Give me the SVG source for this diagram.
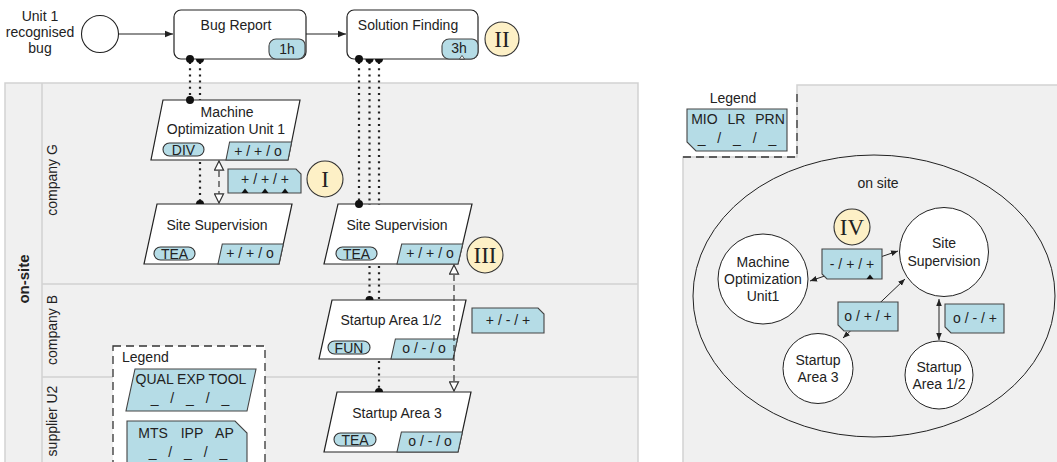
<svg xmlns="http://www.w3.org/2000/svg" width="1057" height="462" viewBox="0 0 1057 462">
<style>
text{font-family:"Liberation Sans",Arial,sans-serif;font-size:14px;fill:#222}
.c{text-anchor:middle}
.lane{fill:#f0f0f0;stroke:#d2d2d2;stroke-width:1.5}
.node{fill:#fff;stroke:#222;stroke-width:1.2}
.badge{fill:#b5dce6;stroke:#444;stroke-width:1.1}
.pill{fill:#b5dce6;stroke:#333;stroke-width:1.1}
.ann{fill:#fdf0c6;stroke:#333;stroke-width:1.1}
.roman{font-family:"Liberation Serif","Times New Roman",serif;font-size:23px;text-anchor:middle;fill:#222}
.dot{fill:none;stroke:#222;stroke-width:2.2;stroke-dasharray:2 4.2}
.dash{fill:none;stroke:#333;stroke-width:1.2;stroke-dasharray:6 4}
.flow{fill:none;stroke:#222;stroke-width:1.1}
.thin{fill:none;stroke:#222;stroke-width:1}
.leg{fill:#fff;stroke:#333;stroke-width:1.3;stroke-dasharray:8 5}
.blk{fill:#111}
</style>
<defs>
<marker id="fa" viewBox="0 0 10 10" refX="10" refY="5" markerWidth="8" markerHeight="8" markerUnits="userSpaceOnUse" orient="auto"><path d="M0 1 L10 5 L0 9 Z" fill="#222"/></marker>
<marker id="sa" viewBox="0 0 10 10" refX="10" refY="5" markerWidth="7" markerHeight="7" markerUnits="userSpaceOnUse" orient="auto-start-reverse"><path d="M0 1 L10 5 L0 9 Z" fill="#222"/></marker>
<marker id="ht" viewBox="0 0 12 12" refX="11" refY="6" markerWidth="11" markerHeight="11" markerUnits="userSpaceOnUse" orient="auto-start-reverse"><path d="M1 1 L11 6 L1 11 Z" fill="#fff" stroke="#333" stroke-width="1.3"/></marker>
</defs>

<!-- left pool -->
<g id="pool-left">
<rect class="lane" x="5" y="83" width="633" height="385"/>
<line x1="42" y1="83" x2="42" y2="468" stroke="#d2d2d2" stroke-width="1.5"/>
<line x1="42" y1="284" x2="638" y2="284" stroke="#d2d2d2" stroke-width="1.5"/>
<line x1="42" y1="377" x2="638" y2="377" stroke="#d2d2d2" stroke-width="1.5"/>
<text transform="translate(29 279) rotate(-90)" class="c" style="font-weight:bold;font-size:15px">on-site</text>
<text transform="translate(57 180) rotate(-90)" class="c">company G</text>
<text transform="translate(57 330) rotate(-90)" class="c">company B</text>
<text transform="translate(57 421) rotate(-90)" class="c">supplier U2</text>
</g>

<!-- right pool -->
<g id="pool-right">
<path class="lane" d="M797 85 H1059 V468 H683 V157 H797 Z"/>
<path d="M683 157 H797 V93" fill="none" stroke="#333" stroke-width="1.3" stroke-dasharray="8 5"/>
<ellipse cx="874" cy="296" rx="181" ry="141" fill="none" stroke="#222" stroke-width="1"/>
<text x="878" y="188" class="c">on site</text>
</g>

<!-- top events -->
<g id="start-event">
<circle cx="100" cy="34" r="18.5" fill="#fff" stroke="#222" stroke-width="1.1"/>
<text x="40" y="21" class="c">Unit 1</text>
<text x="40" y="37" class="c">recognised</text>
<text x="40" y="53" class="c">bug</text>
</g>
<g id="bug-report">
<rect class="node" x="174" y="10" width="132" height="49" rx="7"/>
<text x="236" y="30" class="c">Bug Report</text>
<path class="badge" d="M276 39 H299 A6 6 0 0 1 305 45 V52 A7 7 0 0 1 298 59 H276 A7 7 0 0 1 269 52 V46 A7 7 0 0 1 276 39 Z"/>
<text x="287" y="54" class="c">1h</text>
</g>
<g id="solution-finding">
<rect class="node" x="347" y="10" width="131" height="49" rx="7"/>
<text x="408" y="30" class="c">Solution Finding</text>
<path class="badge" d="M449 39 H472 A6 6 0 0 1 478 45 V52 A7 7 0 0 1 471 59 H449 A7 7 0 0 1 442 52 V46 A7 7 0 0 1 449 39 Z"/>
<text x="459" y="53" class="c">3h</text>
<path d="M459.5 59 L462 55.5 L464.5 59 Z" fill="#fff" stroke="#333" stroke-width="0.8"/>
<circle class="ann" cx="502" cy="39" r="17"/>
<text x="502" y="47" class="roman">II</text>
</g>

<!-- lane nodes -->
<g id="mou1">
<path class="node" d="M163 100 H300 L288 160 H151 Z"/>
<text x="227" y="117" class="c">Machine</text>
<text x="226" y="134" class="c">Optimization Unit 1</text>
<rect class="pill" x="163" y="143" width="41" height="13" rx="6.5"/>
<text x="183.5" y="154.5" class="c">DIV</text>
<path class="badge" d="M229.6 142 H291.6 L288 160 H226 Z"/>
<text x="258" y="156" class="c">+ / + / o</text>
</g>
<g id="note-I">
<path class="badge" d="M228 169 H296 L301 174 V193 H228 Z"/>
<text x="265" y="184" class="c">+ / + / +</text>
<path class="blk" d="M241.5 193 L245 188.5 L248.5 193 Z M261.5 193 L265 188.5 L268.5 193 Z M281.5 193 L285 188.5 L288.5 193 Z"/>
<circle class="ann" cx="325" cy="179" r="18"/>
<text x="325" y="187" class="roman">I</text>
</g>
<g id="site-supervision-1">
<path class="node" d="M157 204 H292 L279 264 H144 Z"/>
<text x="217" y="230" class="c">Site Supervision</text>
<rect class="pill" x="154" y="247" width="41" height="13" rx="6.5"/>
<text x="174.5" y="258.5" class="c">TEA</text>
<path class="badge" d="M222.3 244 H283.3 L279 264 H218 Z"/>
<text x="250" y="258" class="c">+ / + / o</text>
</g>
<g id="site-supervision-2">
<path class="node" d="M338 204 H472 L458 264 H324 Z"/>
<text x="397" y="230" class="c">Site Supervision</text>
<rect class="pill" x="336" y="247" width="41" height="13" rx="6.5"/>
<text x="356.5" y="258.5" class="c">TEA</text>
<path class="badge" d="M401.7 244 H462.7 L458 264 H397 Z"/>
<text x="430" y="258" class="c">+ / + / o</text>
<circle class="ann" cx="485" cy="255" r="18"/>
<text x="485" y="263" class="roman">III</text>
</g>
<g id="startup-12">
<path class="node" d="M332 300 H466 L453 359 H319 Z"/>
<text x="391" y="325" class="c">Startup Area 1/2</text>
<rect class="pill" x="328" y="341" width="42" height="13" rx="6.5"/>
<text x="349" y="352.5" class="c">FUN</text>
<path class="badge" d="M395.4 339 H457.4 L453 359 H391 Z"/>
<text x="424" y="353" class="c">o / - / o</text>
</g>
<g id="note-startup">
<path class="badge" d="M472 308 H538 L544 314 V333 H472 Z"/>
<text x="508" y="325" class="c">+ / - / +</text>
</g>
<g id="startup-3">
<path class="node" d="M337 392 H471 L458 452 H324 Z"/>
<text x="397" y="418" class="c">Startup Area 3</text>
<rect class="pill" x="334" y="433" width="42" height="13" rx="6.5"/>
<text x="355" y="444.5" class="c">TEA</text>
<path class="badge" d="M401.4 432 H462.4 L458 452 H397 Z"/>
<text x="430" y="446" class="c">o / - / o</text>
</g>

<!-- left legend -->
<g id="legend-left">
<rect class="leg" x="113" y="346" width="152" height="130"/>
<text x="122" y="362">Legend</text>
<path class="badge" d="M135 369 H256 L247 411 H126 Z"/>
<text x="191" y="384" class="c">QUAL EXP TOOL</text>
<text x="190" y="403" class="c" style="word-spacing:8px">_ / _ / _</text>
<path class="badge" d="M127 421 H235 L247 433 V470 H127 Z"/>
<text x="186" y="438" class="c" style="word-spacing:9px">MTS IPP AP</text>
<text x="188" y="457" class="c" style="word-spacing:8px">_ / _ / _</text>
</g>

<!-- right legend -->
<g id="legend-right">
<text x="733" y="103" class="c">Legend</text>
<path class="badge" d="M687 109 H787 V151 H696 L687 142 Z"/>
<text x="738" y="124" class="c" style="word-spacing:6px">MIO LR PRN</text>
<text x="737" y="143" class="c" style="word-spacing:8px">_ / _ / _</text>
</g>

<!-- right nodes -->
<g id="c-mou">
<circle cx="763" cy="279" r="45" fill="#fff" stroke="#222" stroke-width="1"/>
<text x="763" y="267" class="c">Machine</text>
<text x="763" y="284" class="c">Optimization</text>
<text x="763" y="301" class="c">Unit1</text>
</g>
<g id="c-site">
<circle cx="944" cy="252" r="44.5" fill="#fff" stroke="#222" stroke-width="1"/>
<text x="944" y="248" class="c">Site</text>
<text x="944" y="266" class="c">Supervision</text>
</g>
<g id="c-startup3">
<circle cx="818" cy="368.5" r="35" fill="#fff" stroke="#222" stroke-width="1"/>
<text x="818" y="365" class="c">Startup</text>
<text x="818" y="382" class="c">Area 3</text>
</g>
<g id="c-startup12">
<circle cx="939" cy="375" r="34" fill="#fff" stroke="#222" stroke-width="1"/>
<text x="939" y="372" class="c">Startup</text>
<text x="939" y="389" class="c">Area 1/2</text>
</g>

<!-- connectors -->
<g id="connectors">
<line class="flow" x1="118.5" y1="34" x2="173" y2="34" marker-end="url(#fa)"/>
<line class="flow" x1="306" y1="34" x2="346" y2="34" marker-end="url(#fa)"/>
<path class="dot" d="M190 62 V98"/>
<path class="dot" d="M200 62 V100 M200 162 V201"/>
<path class="dot" d="M359 62 V202"/>
<path class="dot" d="M369.5 62 V205 M369.5 266 V297"/>
<path class="dot" d="M379 62 V205 M379 266 V301 M379 361 V389"/>
<line class="dash" x1="219" y1="161" x2="219" y2="203" marker-start="url(#ht)" marker-end="url(#ht)"/>
<line class="dash" x1="454" y1="265" x2="454" y2="391" marker-start="url(#ht)" marker-end="url(#ht)"/>
<path class="blk" d="M186 59 A4 4 0 0 0 194 59 A4 4 0 0 0 186 59 Z M186 100 A4 4 0 0 0 194 100 A4 4 0 0 0 186 100 Z"/>
<path class="blk" d="M196 59 A4 4 0 0 0 204 59 Z M196 204 A4 4 0 0 1 204 204 Z"/>
<path class="blk" d="M355 59 A4 4 0 0 0 363 59 A4 4 0 0 0 355 59 Z M355 204 A4 4 0 0 0 363 204 A4 4 0 0 0 355 204 Z"/>
<path class="blk" d="M365.5 59 A4 4 0 0 0 373.5 59 Z M375 59 A4 4 0 0 0 383 59 Z"/>
<path class="blk" d="M365.5 300 A4 4 0 0 1 373.5 300 Z M375 392 A4 4 0 0 1 383 392 Z"/>
<line class="thin" x1="810" y1="281" x2="898" y2="251" marker-start="url(#sa)" marker-end="url(#sa)"/>
<line class="thin" x1="905" y1="279" x2="843" y2="338" marker-start="url(#sa)" marker-end="url(#sa)"/>
<line class="thin" x1="939" y1="299" x2="939" y2="340" marker-start="url(#sa)" marker-end="url(#sa)"/>
</g>

<!-- right notes -->
<g id="note-IV">
<path class="badge" d="M822 249 H882 V279 H827 L822 274 Z"/>
<text x="852" y="269" class="c">- / + / +</text>
<path class="blk" d="M866.5 279 L870 274.5 L873.5 279 Z"/>
<circle class="ann" cx="852" cy="227" r="18"/>
<text x="852" y="235" class="roman">IV</text>
</g>
<g id="note-s3">
<path class="badge" d="M838 302 H898 V331 H844 L838 325 Z"/>
<text x="868" y="321" class="c">o / + / +</text>
</g>
<g id="note-s12">
<path class="badge" d="M945 304 H1004 V333 H951 L945 327 Z"/>
<text x="975" y="323" class="c">o / - / +</text>
</g>
</svg>
